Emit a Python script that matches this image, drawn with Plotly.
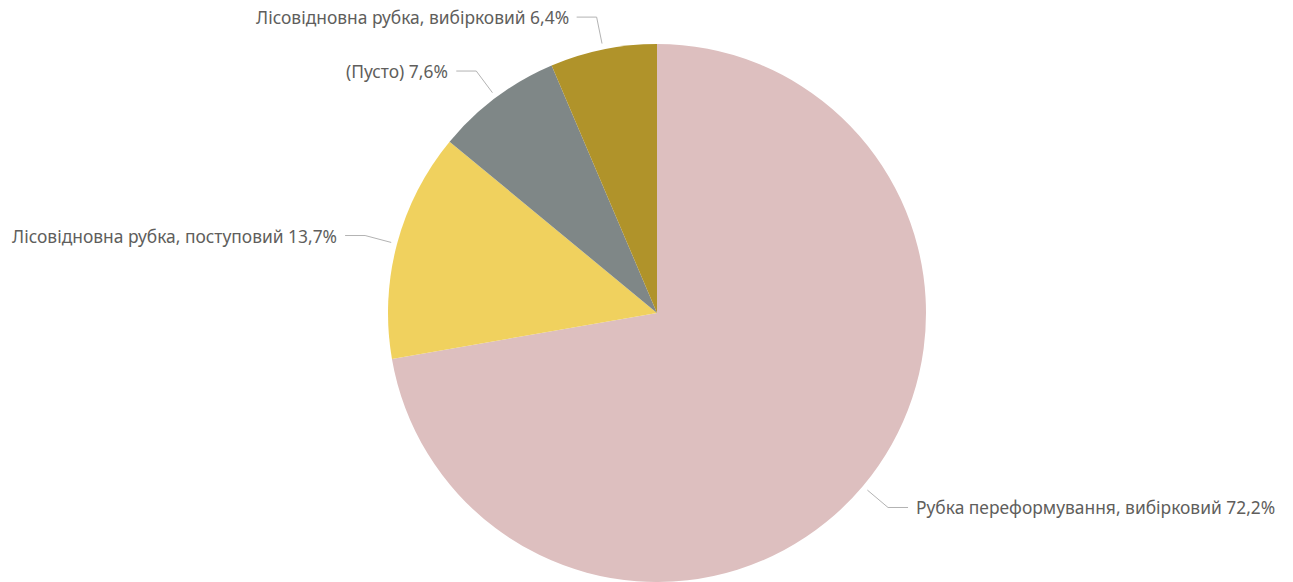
import math
import plotly.graph_objects as go

labels = [
    "Рубка переформування, вибірковий",
    "Лісовідновна рубка, поступовий",
    "(Пусто)",
    "Лісовідновна рубка, вибірковий",
]
values = [72.2, 13.7, 7.6, 6.4]
colors = ["#DDBFBF", "#F0D15E", "#7F8787", "#B0932A"]

W, H = 1293, 582
CX, CY, R = 657, 313, 269
TEXT_COLOR = "#605E5C"
LINE_COLOR = "#B3B3B3"
FONT = "Noto Sans"

fig = go.Figure(
    go.Pie(
        labels=labels,
        values=values,
        marker=dict(colors=colors, line=dict(width=0)),
        sort=False,
        direction="clockwise",
        rotation=0,
        textinfo="none",
        hoverinfo="label+percent",
        showlegend=False,
        domain=dict(x=[(CX - R) / W, (CX + R) / W], y=[0, 1 - (CY - R) / H]),
    )
)


def px(x, y):
    return x / W, 1 - y / H


shapes = []
annotations = []
total = sum(values)
cum = 0.0
for lab, val in zip(labels, values):
    mid = (cum + val / 2) / total * 2 * math.pi
    cum += val
    s, c = math.sin(mid), math.cos(mid)
    x0, y0 = CX + (R + 6) * s, CY - (R + 6) * c
    x1, y1 = CX + (R + 33) * s, CY - (R + 33) * c
    side = 1 if s >= 0 else -1
    x2 = x1 + side * 20
    pts = [px(x0, y0), px(x1, y1), px(x2, y1)]
    path = "M {} {} L {} {} L {} {}".format(*[v for p in pts for v in p])
    shapes.append(dict(type="path", path=path, xref="paper", yref="paper",
                       line=dict(color=LINE_COLOR, width=1)))
    txt = "{} {}%".format(lab, f"{val:.1f}".replace(".", ","))
    ax, ay = px(x2 + side * 6, y1)
    annotations.append(dict(
        x=ax, y=ay, xref="paper", yref="paper", text=txt, showarrow=False,
        xanchor="left" if side > 0 else "right", yanchor="middle",
        font=dict(family=FONT, size=17.4, color=TEXT_COLOR),
    ))

fig.update_layout(
    width=W, height=H,
    margin=dict(l=0, r=0, t=0, b=0),
    paper_bgcolor="white", plot_bgcolor="white",
    shapes=shapes, annotations=annotations,
)

fig.write_html("out.html")
